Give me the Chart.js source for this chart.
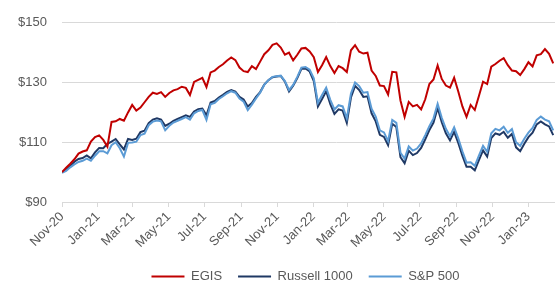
<!DOCTYPE html>
<html><head><meta charset="utf-8">
<script src="https://cdn.jsdelivr.net/npm/chart.js@4.4.0/dist/chart.umd.min.js"></script>
<style>html,body{margin:0;padding:0;background:#fff;overflow:hidden;width:555px;height:284px}</style>
</head><body>
<canvas id="c" width="621" height="293"></canvas>
<script>
// ---- data ----
const startDate = [2020, 10, 1];   // Nov 1, 2020 (year, monthIndex, day)
const stepDays = 7;                // weekly observations
const tickLabels = ['Nov-20','Jan-21','Mar-21','May-21','Jul-21','Sep-21','Nov-21','Jan-22','Mar-22','May-22','Jul-22','Sep-22','Nov-22','Jan-23'];
const yTicks = [90, 110, 130, 150];
const seriesNames = ['EGIS', 'Russell 1000', 'S&P 500'];
const egis = [100,101.5,102.8,104.3,106.2,106.9,107.3,110.2,111.7,112.3,
110.8,108.5,116.8,117,117.8,117.2,120,122.5,120.6,121.6,
123.4,125.2,126.6,126.2,126.8,125.2,126.5,127.4,127.8,128.6,
128.2,125.8,130.2,130.9,131.6,128.5,133.4,134,135.2,136.1,
137.4,138.4,137.5,135.0,133.8,133.5,135.5,134.5,137.0,139.5,
140.8,142.6,143.1,141.7,139.3,140.0,137.4,139.3,141.4,141.6,
140.4,138.5,133.5,135.8,138.5,135.5,133.2,135.5,134.8,133.5,
140.8,142.5,140.3,139.7,140.0,134.0,132.2,129.0,128.8,126.0,
133.6,133.4,124.0,118.5,123.5,122.0,122.5,121.0,124.4,129.5,
131.0,135.7,131.2,129.0,128.3,131.6,127.0,122.0,118.5,122.5,
120.8,125.5,130.3,129.5,135.3,136.2,137.3,138.2,135.8,134.0,
133.8,132.5,134.5,136.8,135.4,139.1,139.5,141.2,139.6,136.4];
const russell1000 = [100,100.8,102.1,103.5,104.4,104.7,105.6,104.6,106.6,108.1,
108.0,109.5,110.2,111.1,109.3,107.6,111.1,110.8,111.2,113.4,
113.9,116.4,117.6,118.0,117.6,115.5,116.2,117.2,117.8,118.4,
119.0,118.5,120.3,121.1,121.3,119.0,123.3,123.8,125.0,125.9,
126.9,127.5,127.0,125.2,124.3,122.0,123.1,125.2,126.8,129.3,
130.8,131.8,132.0,132.2,130.3,127.0,128.9,131.5,134.6,134.7,
133.7,130.5,122.0,124.5,127.1,122.8,119.5,121.0,120.6,116.5,
125.0,128.9,127.5,125.2,125.4,119.7,117.0,112.5,111.8,109.0,
116.2,115.1,105.0,103.0,107.2,105.7,106.4,108.1,111.0,114.1,
116.6,121.5,116.7,113.0,110.6,113.5,109.8,105.5,101.8,101.8,
100.6,104.0,107.3,105.2,111.4,113.0,112.5,113.5,111.5,112.8,
108.3,107.0,109.5,111.7,113.2,116.0,117.0,116.0,115.3,112.4];
const sp500 = [99.8,100.4,101.6,102.6,103.4,103.8,104.5,103.8,105.5,107.0,
107.0,106.3,109.0,110.0,108.0,105.2,109.8,109.9,110.2,112.4,
112.9,115.7,116.9,117.3,117.0,114.0,115.5,116.6,117.2,117.8,
118.4,117.6,119.7,120.5,120.8,117.5,122.7,123.2,124.5,125.4,
126.4,127.1,126.6,124.6,123.6,120.8,122.6,124.7,126.6,129.2,
130.8,131.9,132.1,132.3,130.5,127.5,129.2,131.9,135.0,135.2,
134.3,131.4,123.2,125.8,128.3,124.2,121.0,122.4,122.0,118.0,
126.3,130.0,128.8,126.6,126.8,121.2,118.6,114.0,113.3,110.4,
117.5,116.5,106.5,104.5,108.6,107.2,107.9,109.6,112.4,115.4,
118.0,122.9,118.2,114.5,112.0,115.0,111.3,107.0,103.2,103.3,
102.1,105.5,108.8,106.8,113.0,114.5,114.0,115.2,113.2,114.4,
110.0,108.8,111.2,113.2,114.8,117.5,118.6,117.6,117.0,114.0];

// ---- helpers ----
const MONTHS = ['Jan','Feb','Mar','Apr','May','Jun','Jul','Aug','Sep','Oct','Nov','Dec'];
const t0 = Date.UTC(startDate[0], startDate[1], startDate[2]);
function labelToDay(lbl){
  const [m, yy] = lbl.split('-');
  return Math.round((Date.UTC(2000 + (+yy), MONTHS.indexOf(m), 1) - t0) / 86400000);
}
const tickDays = tickLabels.map(labelToDay);
const toPoints = arr => arr.map((v, i) => ({x: i * stepDays, y: v}));

const FONT = '"Liberation Sans", Arial, sans-serif';
const FSIZE = 13;
const TXT = '#595959';
const GRID = '#d9d9d9';
const COLORS = ['#c00000', '#1f3864', '#5b9bd5'];

function ds(i, data, order){
  return {
    label: seriesNames[i], data: toPoints(data), order,
    borderColor: COLORS[i], backgroundColor: COLORS[i],
    pointBorderColor: COLORS[i], pointBackgroundColor: COLORS[i],
    pointBorderWidth: 2, borderWidth: 2
  };
}

new Chart(document.getElementById('c'), {
  type: 'line',
  data: {
    datasets: [ds(0, egis, 0), ds(1, russell1000, 2), ds(2, sp500, 1)]
  },
  options: {
    responsive: false,
    animation: false,
    devicePixelRatio: 1,
    layout: {padding: {top: 21, right: 10, left: 0, bottom: 0}},
    elements: {
      line: {tension: 0},
      point: {radius: 0, hoverRadius: 0}
    },
    plugins: {
      tooltip: {enabled: false},
      legend: {
        position: 'bottom',
        labels: {
          sort: (a, b) => a.datasetIndex - b.datasetIndex,
          usePointStyle: true,
          pointStyle: 'line',
          pointStyleWidth: 33,
          padding: 16,
          color: TXT,
          font: {family: FONT, size: FSIZE}
        }
      }
    },
    scales: {
      x: {
        type: 'linear',
        min: 0,
        max: 931,
        afterBuildTicks: s => { s.ticks = tickDays.map(v => ({value: v})); },
        afterFit: s => { s.height = 52; },
        ticks: {
          autoSkip: false,
          maxRotation: 45,
          minRotation: 45,
          padding: 2,
          color: TXT,
          font: {family: FONT, size: FSIZE},
          callback: v => tickLabels[tickDays.indexOf(v)] ?? ''
        },
        grid: {drawOnChartArea: false, drawTicks: true, tickLength: 5, color: GRID},
        border: {display: true, color: GRID, width: 1}
      },
      y: {
        min: 90,
        max: 150,
        afterBuildTicks: s => { s.ticks = yTicks.map(v => ({value: v})); },
        afterFit: s => { s.width = 62; },
        ticks: {
          padding: 15,
          color: TXT,
          font: {family: FONT, size: FSIZE},
          callback: v => '$' + v
        },
        grid: {drawTicks: false, color: GRID, lineWidth: 1},
        border: {display: false}
      }
    }
  }
});
</script>
</body></html>
